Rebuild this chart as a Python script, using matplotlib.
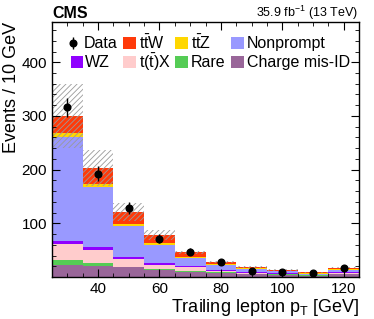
import numpy as np
import matplotlib
matplotlib.use("Agg")
import matplotlib.pyplot as plt
from matplotlib.patches import Rectangle
from matplotlib.ticker import MultipleLocator

plt.rcParams['font.family'] = ['Liberation Sans', 'DejaVu Sans']
plt.rcParams['mathtext.fontset'] = 'custom'
plt.rcParams['mathtext.rm'] = 'Liberation Sans'
plt.rcParams['mathtext.it'] = 'Liberation Sans:italic'
plt.rcParams['mathtext.bf'] = 'Liberation Sans:bold'
plt.rcParams['hatch.linewidth'] = 0.6

# ---- data ----
bin_edges = np.arange(25, 126, 10)
bin_centers = np.arange(30, 121, 10)

charge_misid = [22, 21, 18, 13.5, 10, 8, 5, 4, 2.5, 5]
rare = [9.5, 5, 1.5, 1.5, 1.7, 1.5, 1, 0.7, 0.5, 1]
ttx = [30.5, 24.5, 14, 8, 6.3, 2.5, 2, 1.5, 1, 2]
wz = [4.5, 5.5, 3.5, 3, 2, 1, 1, 0.8, 0.5, 1]
nonprompt = [193.5, 111, 58.5, 34, 14.6, 10, 6, 3.5, 1.5, 4]
ttz = [9, 7, 4, 3, 2.4, 2, 1.5, 0.8, 0.7, 1]
ttw = [31, 29, 22, 15, 9, 3, 2, 1.7, 2.1, 3.6]
syst_unc = [60, 33, 17, 9, 3, 2, 1.5, 1, 0.8, 1.5]
data = [316, 192, 128, 71, 47, 27, 11.5, 9.5, 8, 17.5]

components = [
    ("Charge mis-ID", charge_misid, "#996699"),
    ("Rare", rare, "#55cc55"),
    (r"$\mathrm{t(\bar{t})X}$", ttx, "#ffcccc"),
    ("WZ", wz, "#9000ff"),
    ("Nonprompt", nonprompt, "#9999ff"),
    (r"$\mathrm{t\bar{t}Z}$", ttz, "#ffd700"),
    (r"$\mathrm{t\bar{t}W}$", ttw, "#ff3a0a"),
]

fig = plt.figure(figsize=(3.74, 3.19), dpi=100)
ax = fig.add_axes([0.139, 0.1317, 0.821, 0.7993])

bottom = np.zeros(len(bin_centers))
for name, vals, col in components:
    vals = np.array(vals, dtype=float)
    ax.bar(bin_edges[:-1], vals, width=10, bottom=bottom, align='edge',
           color=col, edgecolor='none', linewidth=0)
    bottom = bottom + vals
total = bottom
unc = np.array(syst_unc)
ax.bar(bin_edges[:-1], 2 * unc, width=10, bottom=total - unc, align='edge',
       facecolor='none', edgecolor='#9a9a9a', hatch='//////', linewidth=0)

data = np.array(data)
ax.errorbar(bin_centers, data, yerr=np.sqrt(data), fmt='o', color='black',
            markersize=4.8, elinewidth=1.0, capsize=0, zorder=5)

ax.set_xlim(25, 125)
ax.set_ylim(0, 475)
ax.xaxis.set_major_locator(MultipleLocator(20))
ax.xaxis.set_minor_locator(MultipleLocator(5))
ax.yaxis.set_major_locator(MultipleLocator(100))
ax.yaxis.set_minor_locator(MultipleLocator(20))
ax.tick_params(which='both', direction='in', top=True, right=True, labelsize=11)
ax.tick_params(which='major', length=6)
ax.tick_params(which='minor', length=3)
ax.set_yticks([100, 200, 300, 400])
for s in ax.spines.values():
    s.set_linewidth(1.0)

ax.set_ylabel("Events / 10 GeV", fontsize=13, loc='top', labelpad=1)
ax.set_xlabel(r"Trailing lepton p$_\mathrm{T}$ [GeV]", fontsize=13, loc='right', labelpad=1)

fig.text(52.5 / 374, 1 - 17.5 / 319, "CMS", fontsize=11.5, fontweight='bold',
         ha='left', va='baseline')
fig.text(0.958, 1 - 17.5 / 319, r"35.9 fb$^{-1}$ (13 TeV)", fontsize=9,
         ha='right', va='baseline')

# ---- legend (manual, axes fraction coordinates) ----
ax_l, ax_r, ax_t, ax_b = 52.0, 359.0, 22.0, 277.0
def px2ax(x, y):
    return ((x - ax_l) / (ax_r - ax_l), (ax_b - y) / (ax_b - ax_t))

legend_items = [
    ("Data", None, 73, 84, 43),
    (r"$\mathrm{t\bar{t}W}$", "#ff3a0a", 123, 139, 43),
    (r"$\mathrm{t\bar{t}Z}$", "#ffd700", 175, 191, 43),
    ("Nonprompt", "#9999ff", 231, 247, 43),
    ("WZ", "#9000ff", 71, 85, 62),
    (r"$\mathrm{t(\bar{t})X}$", "#ffcccc", 123, 139, 62),
    ("Rare", "#55cc55", 175, 191, 62),
    ("Charge mis-ID", "#996699", 231, 247, 62),
]
for label, col, bx, tx, cy in legend_items:
    if col is None:
        x0, y0 = px2ax(bx, cy)
        ax.errorbar([x0], [y0], yerr=[0.022], fmt='o', color='black', markersize=4.8,
                    elinewidth=1.0, transform=ax.transAxes, zorder=6)
    else:
        x0, y0 = px2ax(bx, cy + 6)
        w = 12.5 / (ax_r - ax_l)
        h = 12 / (ax_b - ax_t)
        ax.add_patch(Rectangle((x0, y0), w, h, transform=ax.transAxes,
                               facecolor=col, edgecolor='none', zorder=6))
    xt, yt = px2ax(tx, cy)
    ax.text(xt, yt, label, transform=ax.transAxes, fontsize=11.5,
            ha='left', va='center', zorder=6)

fig.savefig("out.png", dpi=100)
